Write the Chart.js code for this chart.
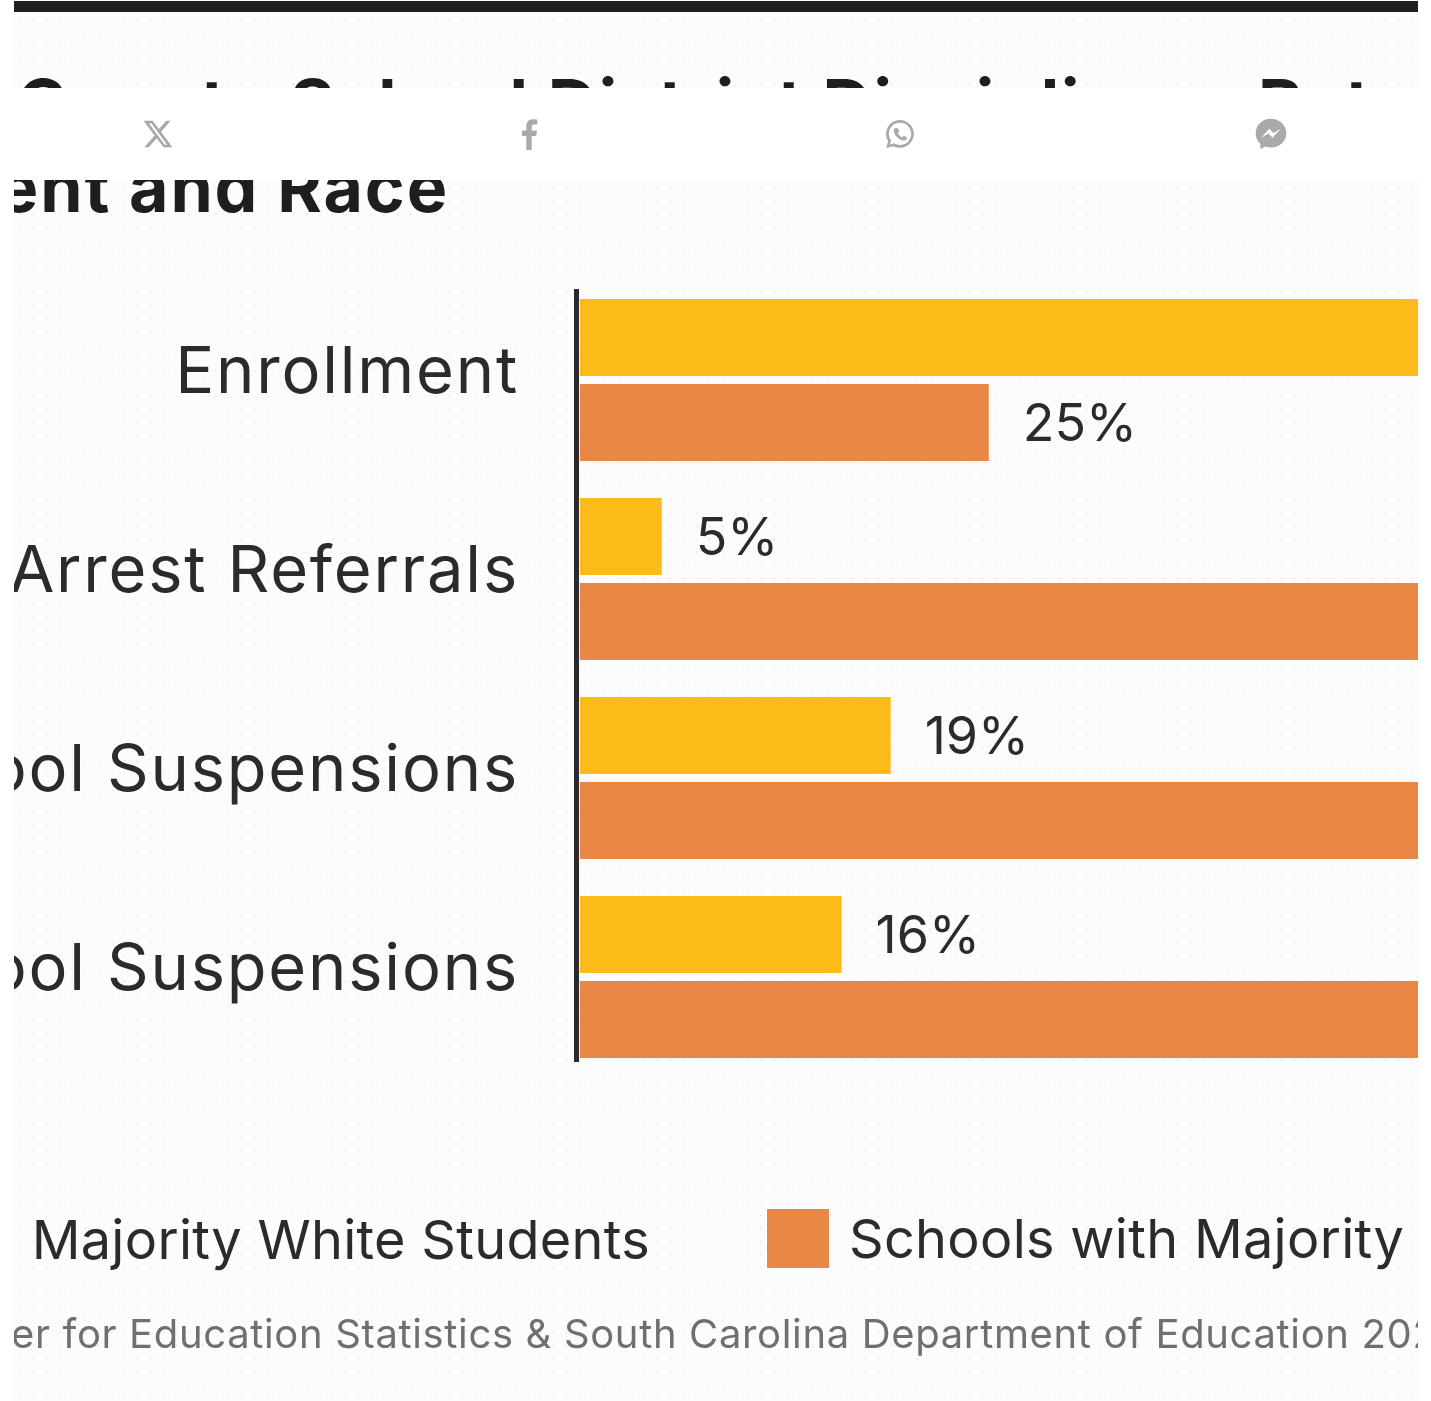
<!DOCTYPE html>
<html>
<head>
<meta charset="utf-8">
<title>School District Disciplinary Rates</title>
<script src="https://cdn.jsdelivr.net/npm/chart.js@4"></script>
<style>
  html, body { margin: 0; background: #fff; }
  #page {
    position: absolute; left: 14px; top: 0; width: 1404px; height: 1401px; overflow: hidden;
    background-color: #fcfcfc;
    background-image: radial-gradient(rgba(0,0,0,0.035) 1.2px, transparent 1.6px);
    background-size: 13px 13px;
  }
  #rule { position: absolute; left: 0; top: 1px; width: 100%; height: 11px; background: #1e1d1f; }
  #chartBox { position: absolute; left: 0; top: 0; width: 1404px; height: 1401px; }
  #share { position: absolute; left: -14px; top: 88px; width: 1431px; height: 92px; background: #fff; }
  #share svg { position: absolute; top: 30px; width: 32px; height: 32px; fill: #a9a9a9; }
</style>
</head>
<body>
<div id="page">
  <div id="rule"></div>
  <div id="chartBox"><canvas id="rateChart" width="1404" height="1401"></canvas></div>
  <div id="share">
    <svg style="left:142px" viewBox="0 0 24 24"><path d="M18.2 2h3.3l-7.2 8.3L22.8 22h-6.6l-5.2-6.8L5 22H1.700l7.700-8.800L1.200 2H8l4.700 6.200zM17 20h1.800L7.100 3.900H5.100z"/></svg>
    <svg style="left:513px" viewBox="0 0 24 24"><path d="M14 24V13.500h3.400l.6-4.200h-4V6.800c0-1.200.4-2 2.100-2H18.200V1.100C17.800 1 16.500.9 15.100.9c-3 0-5.100 1.900-5.100 5.200v3.200H6.700v4.200H10V24z"/></svg>
    <svg style="left:884px" viewBox="0 0 24 24"><path fill-rule="evenodd" d="M12 1.500A10.400 10.400 0 0 0 3.100 17.300L1.700 22.500l5.400-1.400A10.400 10.400 0 1 0 12 1.500zm0 2a8.400 8.400 0 1 1-4.500 15.500l-3 .8.800-2.900A8.400 8.400 0 0 1 12 3.500zM8.800 7.300c-.5 0-1.500.7-1.500 2.200 0 2.900 3.900 7 7.300 7.400 1.700.2 2.600-1 2.600-1.900 0-.6-1.900-1.700-2.400-1.500-.4.200-.7 1-1.100 1-.9 0-3-2-3.200-3 0-.5.800-.8.900-1.200.1-.5-.8-3-2.600-3z"/></svg>
    <svg style="left:1255px" viewBox="0 0 24 24"><path fill-rule="evenodd" d="M12 .5C5.500.5.500 5.200.500 11.400c0 3.200 1.300 6 3.500 8V23.500l3.700-2.100c1.300.4 2.800.7 4.300.7 6.500 0 11.500-4.800 11.500-10.700S18.500.5 12 .5zm1.100 14.300-2.900-3.100-5.700 3.100 6.300-6.700 3 3.100 5.600-3.100z"/></svg>
  </div>
</div>

<script>
// Chart data
const categories = ['Enrollment', 'Arrest Referrals', 'Out-of-School Suspensions', 'In-School Suspensions'];
const whiteSchools = [75, 5, 19, 16];
const blackSchools = [25, 95, 81, 84];
const seriesNames = ['Schools with Majority White Students', 'Schools with Majority Black Students'];
const titleLines = ['County School District Disciplinary Rates by', 'Enrollment and Race'];
const sourceText = 'Source: National Center for Education Statistics & South Carolina Department of Education 2022';

const YELLOW = '#fdbb1a';
const ORANGE = '#e98746';
const FONT = 'Inter, sans-serif';

// Axis spine, value labels, heading, legend row and source line
const decorations = {
  id: 'decorations',
  beforeDraw(chart) {
    chart.ctx.letterSpacing = '1.8px'; // tick labels run a little wide
  },
  afterDatasetsDraw(chart) {
    const { ctx, chartArea } = chart;
    const first = chart.getDatasetMeta(0).data[0];
    const last = chart.getDatasetMeta(1).data[categories.length - 1];

    ctx.save();
    ctx.fillStyle = '#2a2930';
    ctx.fillRect(chartArea.left - 6, first.y - first.height / 2 - 10, 5, last.y - first.y + first.height + 14);

    ctx.letterSpacing = '0px';
    ctx.font = '400 52px ' + FONT;
    ctx.fillStyle = '#2b2b2b';
    ctx.textBaseline = 'middle';
    ctx.textAlign = 'left';
    chart.data.datasets.forEach((ds, d) => {
      chart.getDatasetMeta(d).data.forEach((bar, i) => {
        if (bar.x < chartArea.right) ctx.fillText(ds.data[i] + '%', bar.x + 34, bar.y + 3);
      });
    });

    // heading, the top of the first line and the second line sit behind the share bar
    ctx.fillStyle = '#1e1d1f';
    ctx.textBaseline = 'alphabetic';
    ctx.letterSpacing = '1.85px';
    ctx.font = '700 68px ' + FONT;
    ctx.fillText(titleLines[0], 3, 128);
    ctx.textAlign = 'right';
    ctx.fillText(titleLines[1], 435, 212);

    // legend
    ctx.letterSpacing = '0.3px';
    ctx.fillStyle = '#2b2b2b';
    ctx.font = '400 54px ' + FONT;
    ctx.textBaseline = 'middle';
    ctx.fillText(seriesNames[0], 636, 1243);
    ctx.fillStyle = ORANGE;
    ctx.fillRect(753, 1209, 62, 59);
    ctx.fillStyle = '#2b2b2b';
    ctx.textAlign = 'left';
    ctx.fillText(seriesNames[1], 835, 1242);

    // source line
    ctx.letterSpacing = '0.65px';
    ctx.fillStyle = '#6f6f6f';
    ctx.font = '400 40px ' + FONT;
    ctx.textAlign = 'center';
    ctx.fillText(sourceText, 510, 1336);
    ctx.restore();
  }
};

const config = {
  type: 'bar',
  data: {
    labels: categories,
    datasets: [
      { label: seriesNames[0], data: whiteSchools, backgroundColor: YELLOW },
      { label: seriesNames[1], data: blackSchools, backgroundColor: ORANGE },
    ],
  },
  options: {
    indexAxis: 'y',
    responsive: false,
    animation: false,
    categoryPercentage: 0.854,
    barPercentage: 0.906,
    layout: { padding: { top: 280.5, bottom: 324.5, left: 0, right: 0 } },
    plugins: {
      legend: { display: false },
      tooltip: { enabled: false },
    },
    scales: {
      x: { display: false, min: 0, max: 51.25 },
      y: {
        afterFit(scale) { scale.width = 566; },
        grid: { display: false, drawTicks: false },
        border: { display: false },
        ticks: {
          autoSkip: false,
          padding: 61,
          color: '#2b2b2b',
          font: { family: FONT, size: 65, lineHeight: '14px' },
          // the empty second line lifts each label above the middle of its group
          callback(value, i) { return [categories[i], '']; },
        },
      },
    },
  },
  plugins: [decorations],
};

new Chart(document.getElementById('rateChart').getContext('2d'), config);
</script>
</body>
</html>
